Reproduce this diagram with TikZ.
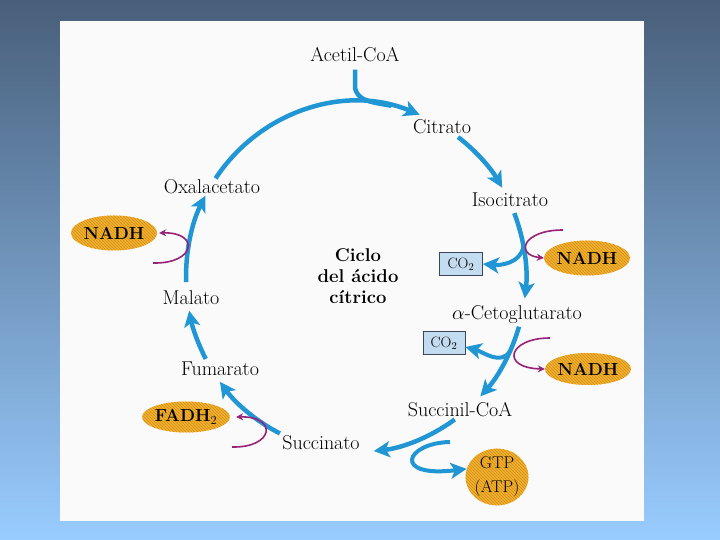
\documentclass[tikz,border=0pt]{standalone}
\usepackage{fix-cm}
\usetikzlibrary{arrows.meta,shapes.geometric,calc,patterns}
\definecolor{bgtop}{RGB}{72,95,122}
\definecolor{bgbot}{RGB}{153,204,255}
\definecolor{panel}{RGB}{250,250,250}
\definecolor{cycblue}{RGB}{33,150,212}
\definecolor{magline}{RGB}{150,35,120}
\definecolor{gold}{RGB}{240,178,46}
\definecolor{golddark}{RGB}{212,140,26}
\definecolor{co2fill}{RGB}{196,220,240}
\definecolor{co2line}{RGB}{60,70,90}
\begin{document}
\begin{tikzpicture}[x=1pt,y=1pt,
  lbl/.style={inner sep=0pt, text height=13pt, text depth=0pt, font=\fontsize{20}{23}\selectfont},
  cyc/.style={draw=cycblue, line width=4.5pt, -{Stealth[length=16pt,width=16pt,inset=4pt]}},
  cycplain/.style={draw=cycblue, line width=4.5pt},
  mag/.style={draw=magline, line width=1.6pt, -{Stealth[length=7pt,width=7pt]}},
  blob/.style={ellipse, fill=gold, inner sep=0pt, postaction={pattern=north west lines, pattern color=golddark}, font=\fontsize{17.5}{20}\selectfont\bfseries},
  co2/.style={rectangle, draw=co2line, line width=0.8pt, fill=co2fill, inner sep=0pt, font=\fontsize{15}{17}\selectfont},
]
\useasboundingbox (0,0) rectangle (720,540);
\shade[top color=bgtop, bottom color=bgbot] (0,0) rectangle (720,540);
\fill[panel] (60,19) rectangle (644,519);

% labels
\node[lbl] (acetil) at (355,485) {Acetil-CoA};
\node[lbl] (citrato) at (442,413) {Citrato};
\node[lbl] (isocitrato) at (510,340) {Isocitrato};
\node[lbl] (alfa) at (517,227) {$\alpha$-Cetoglutarato};
\node[lbl] (succinil) at (460,130) {Succinil-CoA};
\node[lbl] (succinato) at (321,97) {Succinato};
\node[lbl] (fumarato) at (220,171) {Fumarato};
\node[lbl] (malato) at (191,242) {Malato};
\node[lbl] (oxal) at (212,353) {Oxalacetato};
\node[align=center, inner sep=0pt, font=\fontsize{18.5}{21}\selectfont\bfseries] (title) at (358,264) {Ciclo\\del ácido\\cítrico};

% products
\node[blob, minimum width=68pt, minimum height=35pt] (nadhL) at (114,307) {NADH};
\node[blob, minimum width=67pt, minimum height=35pt] (nadhA) at (587,282) {NADH};
\node[blob, minimum width=69pt, minimum height=32pt] (nadhB) at (588,171) {NADH};
\node[blob, minimum width=68pt, minimum height=31pt] (fadh) at (186,123) {FADH$_2$};
\node[blob, minimum width=61pt, minimum height=52pt, font=\fontsize{17}{24}\selectfont, align=center] (gtp) at (497,63) {GTP\\(ATP)};
\node[co2, minimum width=43pt, minimum height=23pt] (co2a) at (461,276) {CO$_2$};
\node[co2, minimum width=42pt, minimum height=23pt] (co2b) at (444,197) {CO$_2$};

% ring points
\coordinate (ctr) at (356,263);
\coordinate (s1) at ($(ctr)+(145.7:170 and 175)$);
\coordinate (s2) at ($(ctr)+(53.1:170 and 175)$);
\coordinate (s3) at ($(ctr)+(21.4:170 and 175)$);
\coordinate (s4) at ($(ctr)+(-16.5:170 and 175)$);
\coordinate (s5) at ($(ctr)+(-54.5:170 and 175)$);
\coordinate (s6) at ($(ctr)+(-116.6:170 and 175)$);
\coordinate (s7) at ($(ctr)+(-152.1:170 and 175)$);
\coordinate (s8) at ($(ctr)+(181.7:170 and 175)$);
\coordinate (j1) at ($(ctr)+(78:170 and 175)$);
\coordinate (b1) at ($(ctr)+(10:170 and 175)$);
\coordinate (b2) at ($(ctr)+(-25:170 and 175)$);

% cycle arrows
\draw[cyc] (s1) arc[start angle=145.7, end angle=68, x radius=170, y radius=175];
\draw[cycplain] ([yshift=-8pt]acetil.south) -- ++(0,-16) to[out=-90,in=168] (j1);
\draw[cyc] (s2) arc[start angle=53.1, end angle=30.7, x radius=170, y radius=175];
\draw[cyc] (s3) arc[start angle=21.4, end angle=-7, x radius=170, y radius=175];
\draw[cyc] (s4) arc[start angle=-16.5, end angle=-43, x radius=170, y radius=175];
\draw[cyc] (s5) arc[start angle=-54.5, end angle=-84, x radius=170, y radius=175];
\draw[cyc] (s6) arc[start angle=-116.6, end angle=-143.2, x radius=170, y radius=175];
\draw[cyc] (s7) arc[start angle=-152.1, end angle=-168.9, x radius=170, y radius=175];
\draw[cyc] (s8) arc[start angle=181.7, end angle=152.3, x radius=170, y radius=175];

% branches
\draw[cyc, line width=4pt] (b1) to[out=-100, in=-5] (co2a.east);
\draw[cyc, line width=4pt] (b2) to[out=-120, in=-15] ([yshift=-4pt]co2b.east);
\coordinate (g0) at (450,98);
\draw[cyc, line width=4pt] (g0) .. controls (405,97) and (392,62) .. (gtp.165);

% magenta
\coordinate (m1) at (563,310);
\draw[mag] (m1) .. controls (522,310) and (515,285) .. (nadhA.west);
\coordinate (m2) at (550,202);
\draw[mag] (m2) .. controls (508,202) and (500,172) .. (nadhB.west);
\coordinate (m3) at (153,277);
\draw[mag] (m3) .. controls (196,276) and (200,308) .. ([xshift=2pt]nadhL.east);
\coordinate (m4) at (232,93);
\draw[mag] (m4) .. controls (274,92) and (278,124) .. ([xshift=6pt]fadh.east);
\end{tikzpicture}
\end{document}
